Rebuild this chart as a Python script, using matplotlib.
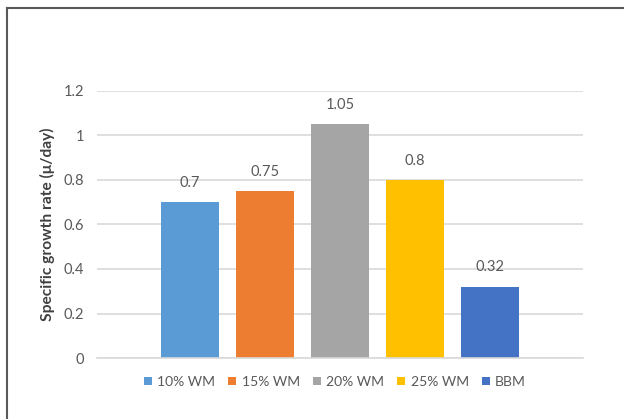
import matplotlib.pyplot as plt
from matplotlib.lines import Line2D

plt.rcParams['font.family'] = ['Lato', 'DejaVu Sans']

series = ['10% WM', '15% WM', '20% WM', '25% WM', 'BBM']
rates = [0.7, 0.75, 1.05, 0.8, 0.32]
colors = ['#5B9BD5', '#ED7D31', '#A5A5A5', '#FFC000', '#4472C4']
yticks = [0, 0.2, 0.4, 0.6, 0.8, 1.0, 1.2]
ytick_labels = ['0', '0.2', '0.4', '0.6', '0.8', '1', '1.2']

fig = plt.figure(figsize=(6.24, 4.19), dpi=100)
ax = fig.add_axes([97 / 624, 1 - 358 / 419, 486 / 624, 267 / 419])

for i, (name, val, col) in enumerate(zip(series, rates, colors)):
    ax.bar(i, val, width=0.78, color=col, label=name, zorder=2)
    ax.annotate(f'{val:g}', (i, val), xytext=(0, 14), textcoords='offset points',
                ha='center', va='center', fontsize=10.5, color='#595959', zorder=3)

ax.set_xlim(-1.24, 5.24)
ax.set_ylim(0, 1.2)
ax.set_yticks(yticks)
ax.set_yticklabels(ytick_labels)
ax.set_xticks([])
ax.tick_params(axis='y', length=0, pad=9, labelsize=10.5, labelcolor='#595959')
ax.grid(axis='y', color='#d9d9d9', linewidth=1.2, zorder=0)
for s in ['left', 'right', 'top']:
    ax.spines[s].set_visible(False)
ax.spines['bottom'].set_color('#d9d9d9')
ax.spines['bottom'].set_linewidth(1.2)

ax.set_ylabel('Specific growth rate (μ/day)', fontsize=11.2, color='#404040',
              fontweight='bold')
ax.yaxis.set_label_coords(-0.086, 0.5)

leg = fig.legend(loc='center', bbox_to_anchor=(335 / 624, 1 - 382 / 419), ncol=5,
                 frameon=False, handlelength=0.55, handleheight=0.55,
                 handletextpad=0.4, columnspacing=0.95, fontsize=10)
for t in leg.get_texts():
    t.set_color('#595959')

# outer chart frame (top and left edges)
fig.add_artist(Line2D([7 / 624, 1.0], [1 - 8 / 419, 1 - 8 / 419],
                      transform=fig.transFigure, color='#595959', linewidth=1.5))
fig.add_artist(Line2D([7 / 624, 7 / 624], [0.0, 1 - 8 / 419],
                      transform=fig.transFigure, color='#595959', linewidth=1.5))

fig.savefig('out.png', dpi=100)
